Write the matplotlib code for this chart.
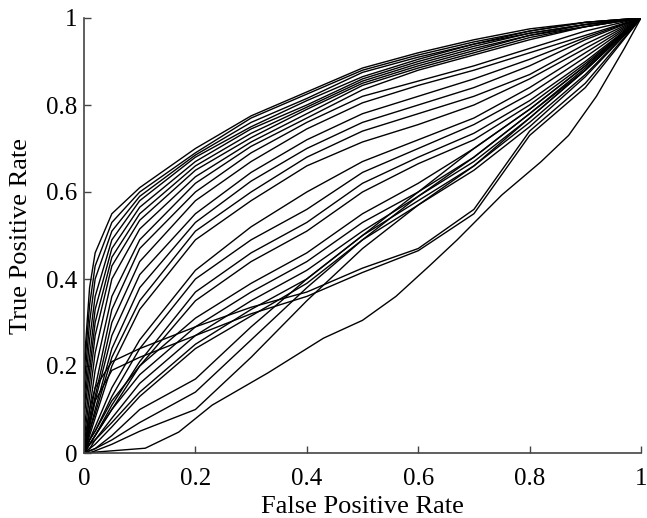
import matplotlib
matplotlib.use("Agg")
import matplotlib.pyplot as plt

# Common false-positive-rate grid for most curves
fpr_grid = [0, 0.01, 0.02, 0.05, 0.1, 0.2, 0.3, 0.4, 0.5, 0.6, 0.7, 0.8, 0.9, 1.0]

# Top group (steep start)
tpr_a1 = [0.20, 0.38, 0.46, 0.55, 0.61, 0.70, 0.775, 0.83, 0.885, 0.92, 0.95, 0.975, 0.99, 1]
tpr_a2 = [0.18, 0.34, 0.43, 0.53, 0.60, 0.69, 0.77, 0.825, 0.88, 0.915, 0.945, 0.97, 0.99, 1]
tpr_a3 = [0.15, 0.30, 0.40, 0.51, 0.59, 0.685, 0.76, 0.815, 0.875, 0.91, 0.94, 0.97, 0.99, 1]
tpr_a4 = [0.12, 0.26, 0.36, 0.49, 0.58, 0.68, 0.75, 0.81, 0.865, 0.905, 0.94, 0.965, 0.985, 1]
tpr_a5 = [0.10, 0.22, 0.33, 0.47, 0.565, 0.67, 0.745, 0.80, 0.86, 0.90, 0.935, 0.965, 0.985, 1]
tpr_a6 = [0.08, 0.19, 0.30, 0.45, 0.55, 0.66, 0.735, 0.795, 0.855, 0.895, 0.93, 0.96, 0.985, 1]
tpr_a7 = [0.05, 0.16, 0.27, 0.43, 0.535, 0.65, 0.725, 0.79, 0.85, 0.89, 0.925, 0.96, 0.98, 1]
tpr_a8 = [0.03, 0.13, 0.23, 0.40, 0.515, 0.635, 0.715, 0.78, 0.845, 0.885, 0.92, 0.955, 0.98, 1]
tpr_a9 = [0.02, 0.10, 0.19, 0.36, 0.49, 0.62, 0.705, 0.77, 0.835, 0.88, 0.915, 0.95, 0.98, 1]

# Second group
tpr_b1 = [0, 0.08, 0.15, 0.33, 0.47, 0.60, 0.69, 0.76, 0.82, 0.855, 0.89, 0.93, 0.97, 1]
tpr_b2 = [0, 0.07, 0.13, 0.30, 0.44, 0.58, 0.67, 0.745, 0.805, 0.845, 0.88, 0.92, 0.96, 1]
tpr_b3 = [0, 0.06, 0.12, 0.27, 0.41, 0.55, 0.645, 0.72, 0.78, 0.82, 0.86, 0.905, 0.955, 1]
tpr_b4 = [0, 0.05, 0.10, 0.24, 0.38, 0.53, 0.625, 0.70, 0.76, 0.80, 0.84, 0.89, 0.95, 1]
tpr_b5 = [0, 0.05, 0.09, 0.22, 0.35, 0.51, 0.60, 0.68, 0.74, 0.78, 0.82, 0.87, 0.94, 1]
tpr_b6 = [0, 0.04, 0.08, 0.20, 0.33, 0.49, 0.58, 0.66, 0.715, 0.755, 0.80, 0.86, 0.93, 1]

# Third group
tpr_c1 = [0, 0.03, 0.06, 0.15, 0.26, 0.42, 0.52, 0.60, 0.67, 0.72, 0.77, 0.84, 0.92, 1]
tpr_c2 = [0, 0.03, 0.05, 0.13, 0.24, 0.40, 0.49, 0.56, 0.645, 0.70, 0.755, 0.825, 0.91, 1]
tpr_c3 = [0, 0.02, 0.04, 0.11, 0.21, 0.37, 0.46, 0.53, 0.62, 0.68, 0.735, 0.81, 0.90, 1]
tpr_c4 = [0, 0.02, 0.04, 0.10, 0.20, 0.35, 0.44, 0.51, 0.60, 0.665, 0.72, 0.80, 0.895, 1]

# Near-diagonal bundle
tpr_d1 = [0, 0.03, 0.05, 0.12, 0.20, 0.31, 0.39, 0.46, 0.55, 0.62, 0.70, 0.79, 0.89, 1]
tpr_d2 = [0, 0.02, 0.04, 0.10, 0.18, 0.29, 0.37, 0.44, 0.53, 0.60, 0.68, 0.78, 0.885, 1]
tpr_d3 = [0, 0.02, 0.03, 0.08, 0.16, 0.27, 0.35, 0.42, 0.51, 0.59, 0.67, 0.77, 0.88, 1]
tpr_d4 = [0, 0.01, 0.03, 0.07, 0.14, 0.25, 0.33, 0.40, 0.50, 0.58, 0.66, 0.76, 0.87, 1]
tpr_d5 = [0, 0.01, 0.02, 0.06, 0.13, 0.24, 0.315, 0.39, 0.49, 0.57, 0.65, 0.75, 0.865, 1]

# Lower group (slow start)
tpr_e1 = [0, 0.005, 0.01, 0.04, 0.10, 0.17, 0.29, 0.40, 0.50, 0.60, 0.70, 0.79, 0.89, 1]
tpr_e2 = [0, 0.005, 0.01, 0.03, 0.07, 0.14, 0.26, 0.38, 0.49, 0.59, 0.68, 0.78, 0.88, 1]
tpr_e3 = [0, 0.0, 0.005, 0.02, 0.05, 0.10, 0.22, 0.35, 0.47, 0.57, 0.66, 0.77, 0.88, 1]

# Flat pair
tpr_f1 = [0, 0.10, 0.15, 0.21, 0.24, 0.29, 0.335, 0.37, 0.425, 0.47, 0.56, 0.74, 0.85, 1]
tpr_f2 = [0, 0.07, 0.12, 0.19, 0.22, 0.27, 0.32, 0.36, 0.415, 0.465, 0.55, 0.73, 0.84, 1]

grid_curves = [tpr_a1, tpr_a2, tpr_a3, tpr_a4, tpr_a5, tpr_a6, tpr_a7, tpr_a8, tpr_a9,
               tpr_b1, tpr_b2, tpr_b3, tpr_b4, tpr_b5, tpr_b6,
               tpr_c1, tpr_c2, tpr_c3, tpr_c4,
               tpr_d1, tpr_d2, tpr_d3, tpr_d4, tpr_d5,
               tpr_e1, tpr_e2, tpr_e3,
               tpr_f1, tpr_f2]

# Lowest curve, with its own points
fpr_low = [0, 0.05, 0.11, 0.17, 0.23, 0.33, 0.43, 0.50, 0.56, 0.62, 0.67, 0.75, 0.82, 0.87, 0.92, 0.97, 1.0]
tpr_low = [0, 0.005, 0.011, 0.048, 0.11, 0.184, 0.264, 0.305, 0.36, 0.43, 0.49, 0.593, 0.669, 0.73, 0.82, 0.93, 1.0]

x_ticks = [0, 0.2, 0.4, 0.6, 0.8, 1]
x_tick_labels = ["0", "0.2", "0.4", "0.6", "0.8", "1"]
y_ticks = [0, 0.2, 0.4, 0.6, 0.8, 1]
y_tick_labels = ["0", "0.2", "0.4", "0.6", "0.8", "1"]

plt.rcParams['font.family'] = ['Liberation Serif', 'DejaVu Serif']

fig = plt.figure(figsize=(6.47, 5.18), dpi=100)
ax = fig.add_axes([84/647, 65/518, 557/647, 435/518])

for tpr in grid_curves:
    ax.plot([0] + fpr_grid, [0] + tpr, color='black', lw=1.0)
ax.plot(fpr_low, tpr_low, color='black', lw=1.0)

ax.set_xlim(0, 1)
ax.set_ylim(0, 1)
ax.set_xticks(x_ticks)
ax.set_xticklabels(x_tick_labels)
ax.set_yticks(y_ticks)
ax.set_yticklabels(y_tick_labels)
ax.tick_params(direction='in', length=5, width=1, color='#444444', labelsize=18)
ax.tick_params(axis='x', pad=11)
ax.tick_params(axis='y', pad=5)
for s in ['top', 'right']:
    ax.spines[s].set_visible(False)
for s in ['left', 'bottom']:
    ax.spines[s].set_color('#444444')
    ax.spines[s].set_linewidth(1.2)

ax.set_xlabel('False Positive Rate', fontsize=19, labelpad=4)
ax.set_ylabel('True Positive Rate', fontsize=19, labelpad=10)

fig.savefig('out.png', dpi=100)
